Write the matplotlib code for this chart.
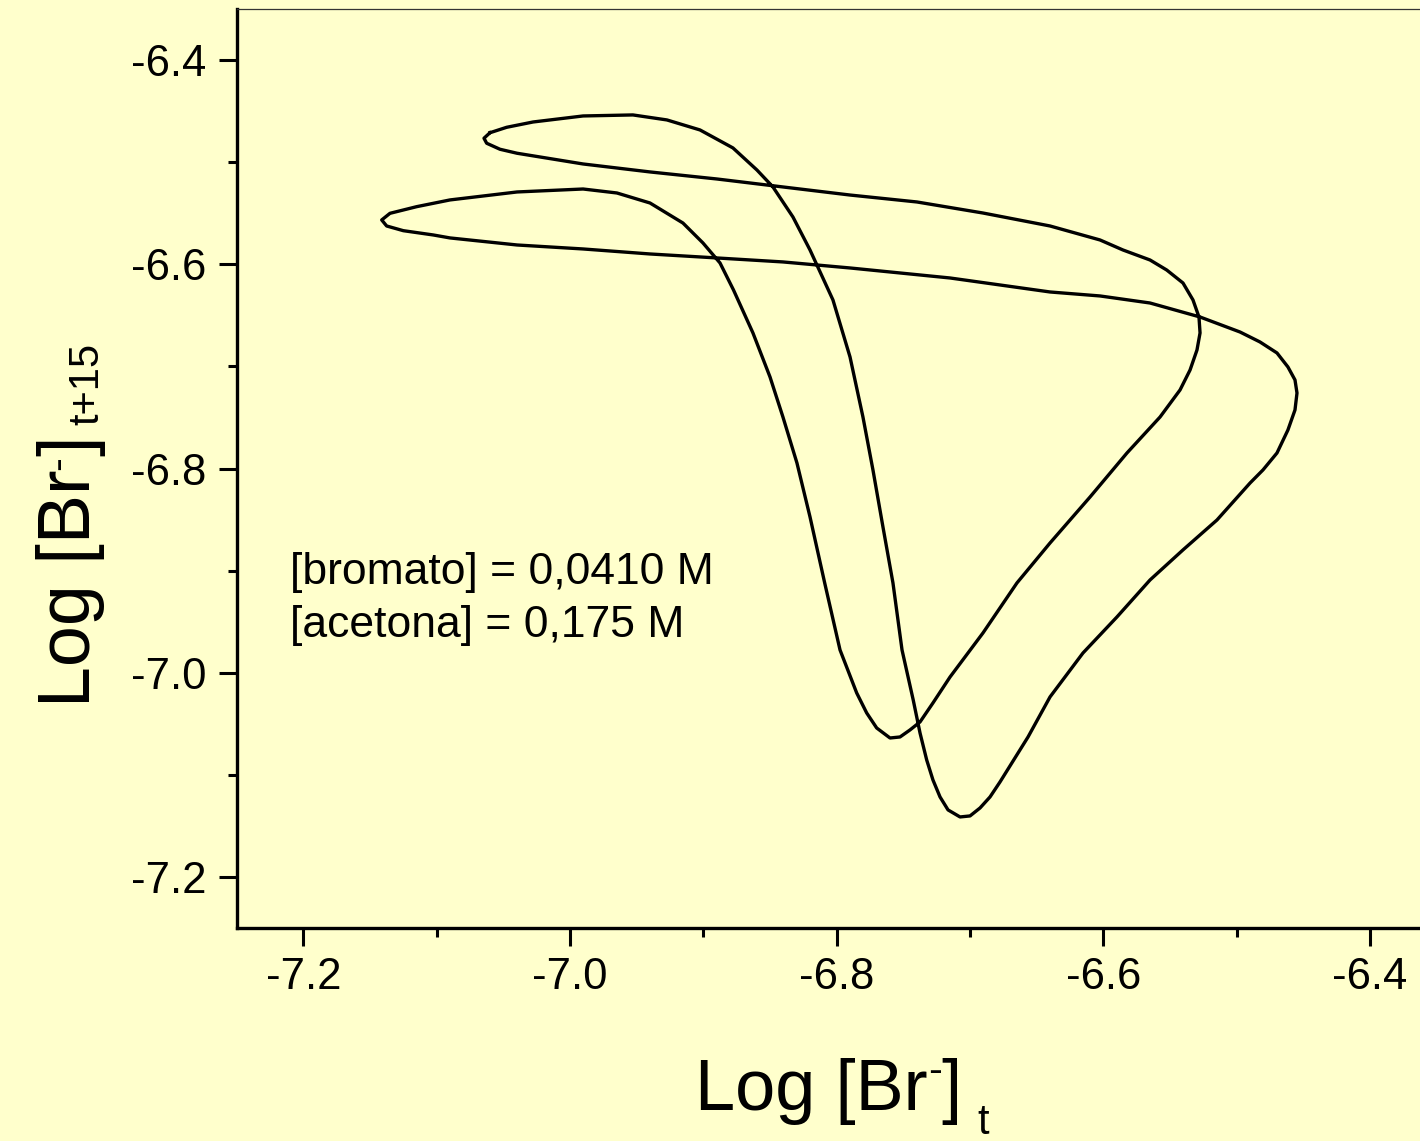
import numpy as np
import matplotlib
matplotlib.use('Agg')
import matplotlib.pyplot as plt
from matplotlib.ticker import MultipleLocator, FormatStrFormatter

plt.rcParams['font.family'] = ['Liberation Sans', 'DejaVu Sans']
plt.rcParams['axes.unicode_minus'] = False

# atractor reconstruido: Log[Br-]_t vs Log[Br-]_t+15, leido de la figura
# tramo 1: punta superior -> rama alta -> descenso derecho -> minimo
x_tramo1 = [-7.0600, -7.0475, -7.0277, -6.9902, -6.9528, -6.9273, -6.9025, -6.8778,
            -6.8598, -6.8478, -6.8328, -6.8200, -6.8028, -6.7900, -6.7803, -6.7728,
            -6.7653, -6.7578, -6.7510, -6.7426, -6.7375, -6.7325, -6.7278, -6.7225,
            -6.7165, -6.7075]
y_tramo1 = [-6.4712, -6.4659, -6.4607, -6.4548, -6.4538, -6.4587, -6.4685, -6.4861,
            -6.5077, -6.5243, -6.5537, -6.5860, -6.6349, -6.6907, -6.7495, -6.8013,
            -6.8571, -6.9119, -6.9775, -7.0265, -7.0588, -7.0852, -7.1048, -7.1214,
            -7.1341, -7.1410]
# tramo 2: subida exterior -> extremo derecho -> linea larga inferior -> punta inferior
x_tramo2 = [-6.7000, -6.6925, -6.6850, -6.6775, -6.6565, -6.6400, -6.6153, -6.5898,
            -6.5650, -6.5403, -6.5148, -6.4900, -6.4803, -6.4698, -6.4616, -6.4563,
            -6.4548, -6.4563, -6.4616, -6.4698, -6.4826, -6.4975, -6.5275, -6.5650,
            -6.6025, -6.6400, -6.7150, -6.7900, -6.8403, -6.8898, -6.9400, -6.9902,
            -7.0397, -7.0900, -7.1025, -7.1250, -7.1375, -7.1412]
y_tramo2 = [-7.1400, -7.1322, -7.1214, -7.1067, -7.0627, -7.0235, -6.9805, -6.9452,
            -6.9090, -6.8796, -6.8503, -6.8141, -6.8013, -6.7847, -6.7622, -6.7426,
            -6.7260, -6.7132, -6.7005, -6.6868, -6.6760, -6.6663, -6.6516, -6.6379,
            -6.6310, -6.6271, -6.6134, -6.6036, -6.5977, -6.5938, -6.5899, -6.5850,
            -6.5811, -6.5742, -6.5713, -6.5671, -6.5625, -6.5566]
# tramo 3: rama alta del lobulo inferior -> descenso izquierdo -> minimo
x_tramo3 = [-7.1350, -7.1150, -7.0900, -7.0397, -6.9902, -6.9648, -6.9400, -6.9153,
            -6.9003, -6.8875, -6.8774, -6.8628, -6.8500, -6.8403, -6.8298, -6.8200,
            -6.8090, -6.7975, -6.7850, -6.7775, -6.7700, -6.7600]
y_tramo3 = [-6.5501, -6.5436, -6.5370, -6.5292, -6.5263, -6.5302, -6.5400, -6.5596,
            -6.5791, -6.5987, -6.6251, -6.6672, -6.7103, -6.7495, -6.7945, -6.8473,
            -6.9119, -6.9775, -7.0196, -7.0392, -7.0539, -7.0637]
# tramo 4: subida interior -> extremo derecho -> linea larga superior -> punta superior
x_tramo4 = [-6.7525, -6.7450, -6.7375, -6.7278, -6.7150, -6.6903, -6.6648, -6.6400,
            -6.6100, -6.5823, -6.5575, -6.5425, -6.5350, -6.5298, -6.5275, -6.5283,
            -6.5328, -6.5403, -6.5525, -6.5650, -6.5853, -6.6025, -6.6400, -6.6903,
            -6.7398, -6.7900, -6.8403, -6.8898, -6.9400, -6.9902, -7.0397, -7.0525,
            -7.0625, -7.0645]
y_tramo4 = [-7.0627, -7.0558, -7.0480, -7.0294, -7.0040, -6.9609, -6.9119, -6.8728,
            -6.8278, -6.7847, -6.7495, -6.7230, -6.7035, -6.6839, -6.6672, -6.6516,
            -6.6349, -6.6183, -6.6056, -6.5958, -6.5860, -6.5762, -6.5625, -6.5498,
            -6.5390, -6.5322, -6.5243, -6.5165, -6.5096, -6.5018, -6.4913, -6.4874,
            -6.4815, -6.4766]

etiqueta_1 = '[bromato] = 0,0410 M'
etiqueta_2 = '[acetona] = 0,175 M'

W, H = 1420, 1141
fondo = '#ffffcc'

fig = plt.figure(figsize=(W / 100, H / 100), dpi=100, facecolor=fondo)
ax = fig.add_axes([237.3 / W, (H - 928) / H, (1421 - 237.3) / W, (928 - 9) / H])
ax.set_facecolor(fondo)

x = np.concatenate([x_tramo1, x_tramo2, x_tramo3, x_tramo4, x_tramo1[:1]])
y = np.concatenate([y_tramo1, y_tramo2, y_tramo3, y_tramo4, y_tramo1[:1]])
ax.plot(x, y, color='black', lw=2.4, solid_joinstyle='round')

ax.set_xlim(-7.2495, -6.3618)
ax.set_ylim(-7.2497, -6.3501)
ax.xaxis.set_major_locator(MultipleLocator(0.2))
ax.xaxis.set_minor_locator(MultipleLocator(0.1))
ax.yaxis.set_major_locator(MultipleLocator(0.2))
ax.yaxis.set_minor_locator(MultipleLocator(0.1))
ax.xaxis.set_major_formatter(FormatStrFormatter('%.1f'))
ax.yaxis.set_major_formatter(FormatStrFormatter('%.1f'))

ax.spines['right'].set_visible(False)
ax.spines['left'].set_linewidth(2.4)
ax.spines['bottom'].set_linewidth(2.4)
ax.spines['top'].set_linewidth(0.9)
ax.spines['top'].set_color('#333333')
ax.tick_params(which='major', length=13, width=2.2, labelsize=31.5)
ax.tick_params(which='minor', length=6.5, width=2.2)
ax.tick_params(axis='x', which='major', pad=8)
ax.tick_params(axis='y', which='major', pad=9)
ax.tick_params(top=False, right=False, which='both')

fig.text(290 / W, (H - 584) / H, etiqueta_1, fontsize=32, ha='left', va='baseline')
fig.text(290 / W, (H - 637) / H, etiqueta_2, fontsize=32, ha='left', va='baseline')


def encadenar(x0, y0, partes, vertical=False):
    # coloca trozos de texto uno tras otro (en pixeles)
    renderer = fig.canvas.get_renderer()
    pos = 0
    for s, size, gap, subida in partes:
        pos += gap
        if vertical:
            px, py = x0 - subida, y0 + pos
        else:
            px, py = x0 + pos, y0 + subida
        t = fig.text(px / W, py / H, s, fontsize=size, rotation=90 if vertical else 0,
                     rotation_mode='anchor', ha='left', va='baseline')
        bb = t.get_window_extent(renderer)
        pos += bb.height if vertical else bb.width


encadenar(695, H - 1110, [('Log [Br', 52, 0, 0), ('-', 30, 0, 27),
                          (']', 52, 0, 0), ('t', 30, 16, -24)])
encadenar(90, H - 707, [('Log [Br', 53, 0, 0), ('-', 30, 0, 20),
                        (']', 53, 0, 0), ('t+15', 30, 10, -8)], vertical=True)

fig.savefig('out.png', dpi=100, facecolor=fondo)
